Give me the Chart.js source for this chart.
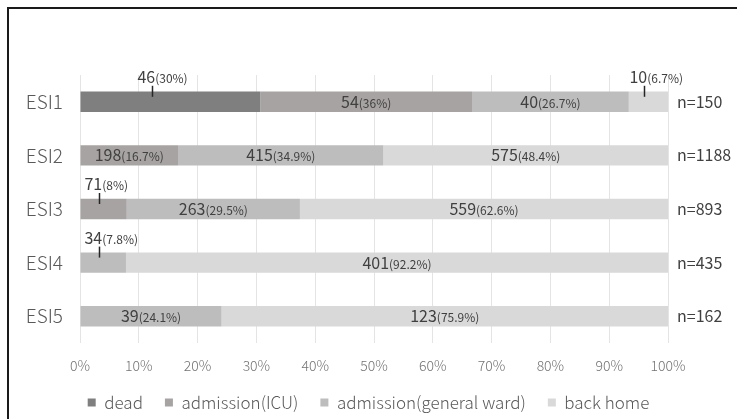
<!DOCTYPE html>
<html>
<head>
<meta charset="utf-8">
<script src="https://cdn.jsdelivr.net/npm/chart.js@4/dist/chart.umd.min.js"></script>
<style>
  html, body { margin: 0; padding: 0; overflow: hidden; background: #fff; }
  #wrap { position: relative; width: 737px; height: 421px; }
  #frame { position: absolute; left: 7px; top: 7px; width: 740px; height: 420px;
           border-left: 2px solid #1a1a1a; border-top: 2px solid #1a1a1a; pointer-events: none; }
</style>
</head>
<body>
<div id="wrap">
  <canvas id="chart"></canvas>
  <div id="frame"></div>
</div>
<script>
const categories = ['ESI1', 'ESI2', 'ESI3', 'ESI4', 'ESI5'];
const totals = [150, 1188, 893, 435, 162];
const seriesNames = ['dead', 'admission(ICU)', 'admission(general ward)', 'back home'];

// counts per outcome
const dead = [46, 0, 0, 0, 0];
const admissionICU = [54, 198, 71, 0, 0];
const admissionWard = [40, 415, 263, 34, 39];
const backHome = [10, 575, 559, 401, 123];

// percentages as printed on the chart
const deadPct = ['30%', '', '', '', ''];
const icuPct = ['36%', '16.7%', '8%', '', ''];
const wardPct = ['26.7%', '34.9%', '29.5%', '7.8%', '24.1%'];
const homePct = ['6.7%', '48.4%', '62.6%', '92.2%', '75.9%'];

const counts = [dead, admissionICU, admissionWard, backHome];
const pcts = [deadPct, icuPct, wardPct, homePct];
const colors = ['#7f7f7f', '#a7a3a2', '#bdbdbd', '#d9d9d9'];

// labels drawn above the bar with a leader line: [dataset, category]
const callouts = [[0, 0], [3, 0], [1, 2], [2, 3]];

const FONT = "'Noto Sans CJK JP', 'Noto Sans', sans-serif";
Chart.defaults.font.family = FONT;

const barLabels = {
  id: 'barLabels',
  afterDatasetsDraw(chart) {
    const ctx = chart.ctx;
    ctx.save();
    ctx.fillStyle = '#404040';
    ctx.strokeStyle = '#262626';
    ctx.textBaseline = 'alphabetic';
    ctx.textAlign = 'left';
    chart.data.datasets.forEach((ds, i) => {
      const meta = chart.getDatasetMeta(i);
      meta.data.forEach((bar, j) => {
        const n = counts[i][j];
        if (!n) return;
        const numText = String(n);
        const pctText = '(' + pcts[i][j] + ')';
        ctx.font = '16px ' + FONT;
        const w1 = ctx.measureText(numText).width;
        ctx.font = '12px ' + FONT;
        const w2 = ctx.measureText(pctText).width;
        const left = Math.min(bar.x, bar.base);
        const right = Math.max(bar.x, bar.base);
        let x0, base;
        const isCallout = callouts.some(c => c[0] === i && c[1] === j);
        if (isCallout) {
          const lx = Math.round(left + (right - left) * 0.4) + 0.5;
          ctx.lineWidth = 1.5;
          ctx.beginPath();
          ctx.moveTo(lx, bar.y - 16);
          ctx.lineTo(lx, bar.y - 5);
          ctx.stroke();
          x0 = lx - w1 * 0.85;
          base = bar.y - 19;
        } else {
          x0 = (left + right) / 2 - (w1 + w2) / 2;
          base = bar.y + 6;
        }
        ctx.font = '16px ' + FONT;
        ctx.fillText(numText, x0, base);
        ctx.font = '12px ' + FONT;
        ctx.fillText(pctText, x0 + w1, base);
      });
    });
    ctx.restore();
  }
};

new Chart(document.getElementById('chart'), {
  type: 'bar',
  data: {
    labels: categories,
    datasets: seriesNames.map((name, i) => ({
      label: name,
      data: counts[i].map((c, j) => c / totals[j] * 100),
      backgroundColor: colors[i],
      yAxisID: 'y',
      barPercentage: 0.38,
      categoryPercentage: 1,
    })),
  },
  options: {
    indexAxis: 'y',
    responsive: true,
    maintainAspectRatio: false,
    animation: false,
    layout: { padding: { top: 75, right: 0, bottom: 0, left: 0 } },
    scales: {
      x: {
        stacked: true,
        min: 0,
        max: 100,
        ticks: {
          stepSize: 10,
          padding: 14,
          color: '#737373',
          font: { size: 14, weight: 300 },
          callback: v => v + '%',
        },
        grid: { color: '#e4e4e4', drawTicks: false },
        border: { display: false },
        afterFit(s) { s.height = 29; },
      },
      y: {
        stacked: true,
        ticks: { padding: 17, color: '#595959', font: { size: 19, weight: 300 } },
        grid: { display: false, drawTicks: false },
        border: { display: false },
        afterFit(s) { s.width = 80; },
      },
      y2: {
        type: 'category',
        labels: totals.map(n => 'n=' + n),
        position: 'right',
        offset: true,
        ticks: { padding: 9, color: '#404040', font: { size: 16 } },
        grid: { display: false, drawTicks: false },
        border: { display: false },
        afterFit(s) { s.width = 69; },
      },
    },
    plugins: {
      legend: {
        position: 'bottom',
        labels: {
          boxWidth: 8,
          boxHeight: 8,
          padding: 22,
          color: '#595959',
          font: { size: 17, weight: 300 },
        },
      },
      tooltip: { enabled: false },
    },
  },
  plugins: [barLabels],
});
</script>
</body>
</html>
